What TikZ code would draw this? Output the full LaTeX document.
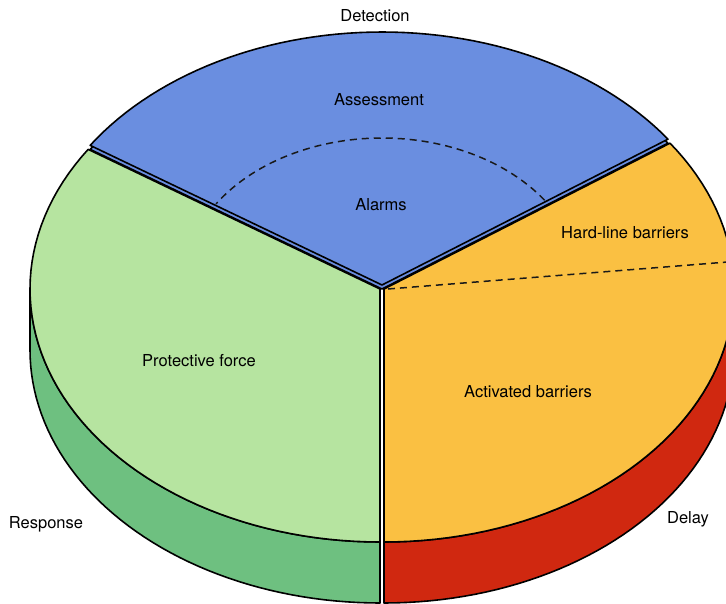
\documentclass[tikz,border=0pt]{standalone}
\usepackage{fontspec}
\setmainfont{TeX Gyre Heros}
\usepackage{xcolor}
\usetikzlibrary{positioning}

\definecolor{detblue}{RGB}{106,142,224}
\definecolor{resgreen}{RGB}{182,228,160}
\definecolor{resside}{RGB}{110,192,128}
\definecolor{delyellow}{RGB}{250,192,66}
\definecolor{delred}{RGB}{208,40,16}

% pie geometry (pixels of the picture)
\def\cx{382}
\def\cy{289}
\def\ra{350}
\def\rb{253}
\def\th{61}

\begin{document}
\begin{tikzpicture}[x=1pt, y=-1pt,
      slice/.style={draw=black, line width=1.6pt, line join=round},
      divide/.style={draw=black!90, line width=1.5pt, dash pattern=on 7pt off 5pt},
      slicetext/.style={font=\fontsize{16.5}{19}\selectfont, text=black, inner sep=1pt}
    ]
    \useasboundingbox (0,0) rectangle (726,603);
    \clip (0,0) rectangle (726,603);

    % sides
    \draw[slice, fill=resside] plot[domain=180:270, samples=50] ({\cx-2+\ra*cos(\x)},{\cy-\rb*sin(\x)})
      -- plot[domain=270:180, samples=50] ({\cx-2+\ra*cos(\x)},{\cy+\th-\rb*sin(\x)}) -- cycle;
    \draw[slice, fill=delred] plot[domain=270:362, samples=50] ({\cx+2+\ra*cos(\x)},{\cy-\rb*sin(\x)})
      -- plot[domain=362:270, samples=50] ({\cx+2+\ra*cos(\x)},{\cy+\th-\rb*sin(\x)}) -- cycle;

    % top faces
    \draw[slice, fill=resgreen] (\cx-2,\cy) -- plot[domain=146.5:270, samples=60] ({\cx-2+\ra*cos(\x)},{\cy-\rb*sin(\x)}) -- cycle;
    \draw[slice, fill=delyellow] (\cx+2,\cy) -- plot[domain=-90:35.2, samples=60] ({\cx+2+\ra*cos(\x)},{\cy-\rb*sin(\x)}) -- cycle;
    \draw[slice, fill=detblue] (\cx,\cy) -- plot[domain=35.2:146.5, samples=60] ({\cx+\ra*cos(\x)},{\cy-\rb*sin(\x)}) -- cycle;
    \draw[slice, fill=detblue] (\cx,\cy-4) -- plot[domain=35.2:146.5, samples=60] ({\cx+\ra*cos(\x)},{\cy-4-\rb*sin(\x)}) -- cycle;

    % inner divisions
    \draw[divide] plot[domain=35.2:146.5, samples=60] ({\cx+199*cos(\x)},{\cy-4-147*sin(\x)});
    \coordinate (hub) at (\cx+6,\cy);
    \coordinate (rim) at (740,261);
    \draw[divide] (hub) -- (rim);

    % texts
    \node[slicetext] (detection) at (375,16) {Detection};
    \node[slicetext] (assessment) at (379,100) {Assessment};
    \node[slicetext] (alarms) at (381,205) {Alarms};
    \node[slicetext] (hardline) at (625,233) {Hard-line barriers};
    \node[slicetext] (protective) at (199,361) {Protective force};
    \node[slicetext] (activated) at (528,392) {Activated barriers};
    \node[slicetext] (response) at (46,524) {Response};
    \node[slicetext] (delay) at (688,519) {Delay};
  \end{tikzpicture}
\end{document}
